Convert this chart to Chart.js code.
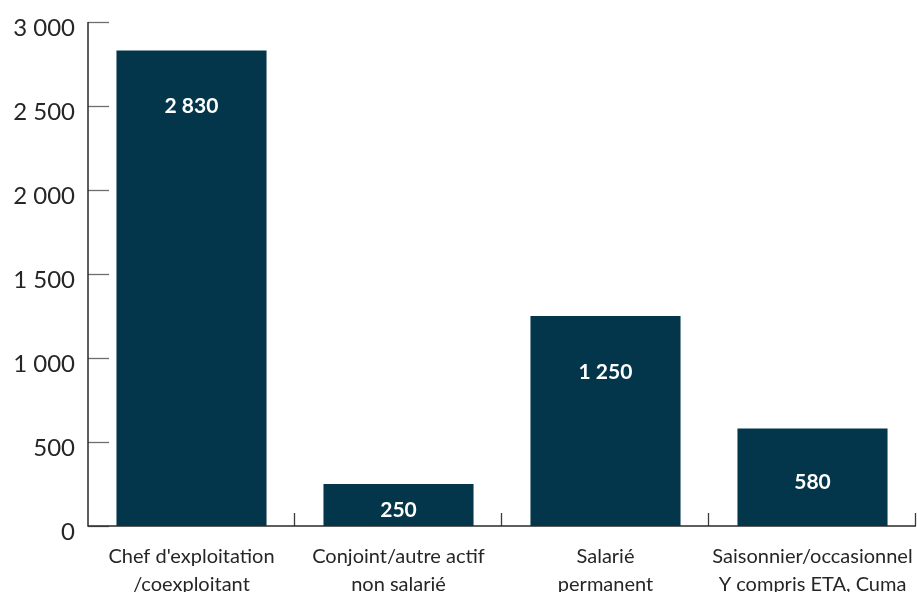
<!DOCTYPE html>
<html>
<head>
<meta charset="utf-8">
<script src="https://cdn.jsdelivr.net/npm/chart.js@4"></script>
<style>
  html, body { margin: 0; padding: 0; background: #fff; overflow: hidden; }
  #wrap { width: 917px; height: 592px; }
</style>
</head>
<body>
<div id="wrap"><canvas id="c"></canvas></div>
<script>
// Données
var categories = [
  ["Chef d'exploitation", "/coexploitant"],
  ["Conjoint/autre actif", "non salarié"],
  ["Salarié", "permanent"],
  ["Saisonnier/occasionnel", "Y compris ETA, Cuma"]
];
var effectifs = [2830, 250, 1250, 580];
var yTicks = [0, 500, 1000, 1500, 2000, 2500, 3000];

var barColor = '#03364a';
var textColor = '#262626';

function fmt(v) {
  return String(v).replace(/\B(?=(\d{3})+(?!\d))/g, ' ');
}

// petites graduations intérieures + étiquettes des barres
var axisPlugin = {
  id: 'axisPlugin',
  afterDatasetsDraw: function (chart) {
    var ctx = chart.ctx;
    var x = chart.scales.x, y = chart.scales.y;
    var area = chart.chartArea;
    ctx.save();
    ctx.strokeStyle = '#6e6e6e';
    ctx.lineWidth = 1.3;
    yTicks.forEach(function (t) {
      var py = Math.round(y.getPixelForValue(t)) + 0.5;
      ctx.beginPath();
      ctx.moveTo(area.left, py);
      ctx.lineTo(area.left + 21, py);
      ctx.stroke();
    });
    ctx.strokeStyle = '#3a3a3a';
    for (var i = 1; i <= categories.length; i++) {
      var px = Math.round(area.left + (area.right - area.left) * i / categories.length) - 0.5;
      ctx.beginPath();
      ctx.moveTo(px, area.bottom);
      ctx.lineTo(px, area.bottom - 13);
      ctx.stroke();
    }
    // axes
    ctx.strokeStyle = '#2a2a2a';
    ctx.lineWidth = 1.5;
    ctx.beginPath();
    ctx.moveTo(area.left, y.getPixelForValue(3000));
    ctx.lineTo(area.left, area.bottom);
    ctx.lineTo(area.right, area.bottom);
    ctx.stroke();

    var meta = chart.getDatasetMeta(0);
    ctx.fillStyle = '#ffffff';
    ctx.font = 'bold 21px Lato, "Open Sans", sans-serif';
    ctx.textAlign = 'center';
    ctx.textBaseline = 'middle';
    meta.data.forEach(function (bar, i) {
      var h = bar.base - bar.y;
      var off = Math.min(56, h / 2 + 5);
      ctx.fillText(fmt(effectifs[i]), bar.x, bar.y + off);
    });
    ctx.restore();
  }
};

new Chart(document.getElementById('c'), {
  type: 'bar',
  data: {
    labels: categories,
    datasets: [{
      data: effectifs,
      backgroundColor: barColor,
      borderWidth: 0,
      categoryPercentage: 0.725,
      barPercentage: 1
    }]
  },
  options: {
    responsive: true,
    maintainAspectRatio: false,
    animation: false,
    layout: { padding: { top: 22, right: 1, left: 0, bottom: 0 } },
    plugins: {
      legend: { display: false },
      tooltip: { enabled: false }
    },
    scales: {
      x: {
        grid: { display: false, drawTicks: false },
        border: { display: false },
        ticks: {
          color: textColor,
          font: { family: 'Lato, "Open Sans", sans-serif', size: 20, lineHeight: 1.4 },
          padding: 17,
          maxRotation: 0,
          autoSkip: false
        },
        afterFit: function (s) { s.height = 66; s.paddingRight = 0; s.paddingLeft = 0; }
      },
      y: {
        min: 0,
        max: 3000,
        afterBuildTicks: function (s) {
          s.ticks = yTicks.map(function (v) { return { value: v }; });
        },
        grid: { display: false, drawTicks: false },
        border: { display: false },
        ticks: {
          color: textColor,
          font: { family: 'Lato, "Open Sans", sans-serif', size: 24 },
          padding: 13,
          labelOffset: 6,
          callback: function (v) { return fmt(v); }
        },
        afterFit: function (s) { s.width = 88; s.paddingTop = 0; s.paddingBottom = 0; }
      }
    }
  },
  plugins: [axisPlugin]
});
</script>
</body>
</html>
